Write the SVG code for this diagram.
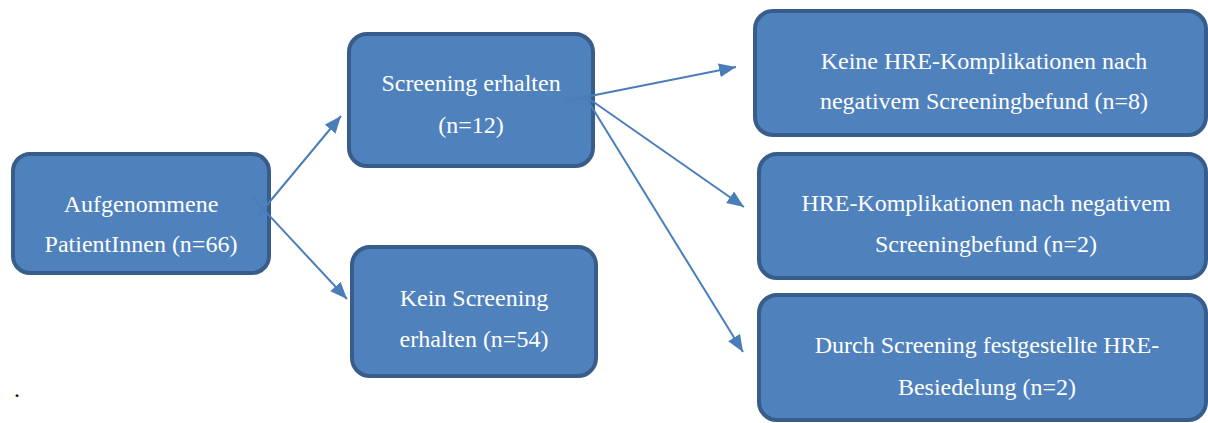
<svg xmlns="http://www.w3.org/2000/svg" width="1208" height="423" viewBox="0 0 1208 423">
<style>
.box{fill:#4F81BD;stroke:#385D8A;stroke-width:4}
.t{fill:#FFFFFF;font-family:"Liberation Serif","Times New Roman",serif;font-size:24px;text-anchor:middle}
.c{stroke:#4A7EBB;stroke-width:2;fill:none;marker-end:url(#ah)}
</style>
<defs>
<marker id="ah" markerUnits="userSpaceOnUse" markerWidth="18" markerHeight="14" refX="17" refY="7" orient="auto">
<path d="M0,0 L17,7 L0,14 Z" fill="#4A7EBB"/>
</marker>
</defs>
<rect width="1208" height="423" fill="#FFFFFF"/>
<g id="n1"><rect class="box" x="13" y="154" width="256" height="119" rx="17"/>
<text class="t" x="141" y="212">Aufgenommene</text><text class="t" x="141" y="252">PatientInnen (n=66)</text></g>
<g id="n2"><rect class="box" x="349" y="34" width="244" height="132" rx="18"/>
<text class="t" x="471" y="91">Screening erhalten</text><text class="t" x="471" y="133">(n=12)</text></g>
<g id="n3"><rect class="box" x="352" y="247" width="244" height="129" rx="18"/>
<text class="t" x="474" y="306">Kein Screening</text><text class="t" x="474" y="347">erhalten (n=54)</text></g>
<g id="n4"><rect class="box" x="755" y="11" width="451" height="124" rx="18"/>
<text class="t" x="984" y="69">Keine HRE-Komplikationen nach</text><text class="t" x="984" y="109">negativem Screeningbefund (n=8)</text></g>
<g id="n5"><rect class="box" x="759" y="154" width="447" height="124" rx="18"/>
<text class="t" x="986" y="211">HRE-Komplikationen nach negativem</text><text class="t" x="986" y="252">Screeningbefund (n=2)</text></g>
<g id="n6"><rect class="box" x="759" y="295" width="447" height="125" rx="18"/>
<text class="t" x="987" y="353">Durch Screening festgestellte HRE-</text><text class="t" x="987" y="395">Besiedelung (n=2)</text></g>
<g id="connectors">
<line class="c" x1="257" y1="217" x2="341" y2="116"/>
<line class="c" x1="252" y1="197" x2="347" y2="299"/>
<line class="c" x1="565" y1="101" x2="736" y2="67"/>
<line class="c" x1="585" y1="96" x2="744" y2="207"/>
<line class="c" x1="585" y1="96" x2="743" y2="352"/>
</g>
<text x="14" y="397" style="font-family:'Liberation Serif',serif;font-size:24px;fill:#000">.</text>
</svg>
